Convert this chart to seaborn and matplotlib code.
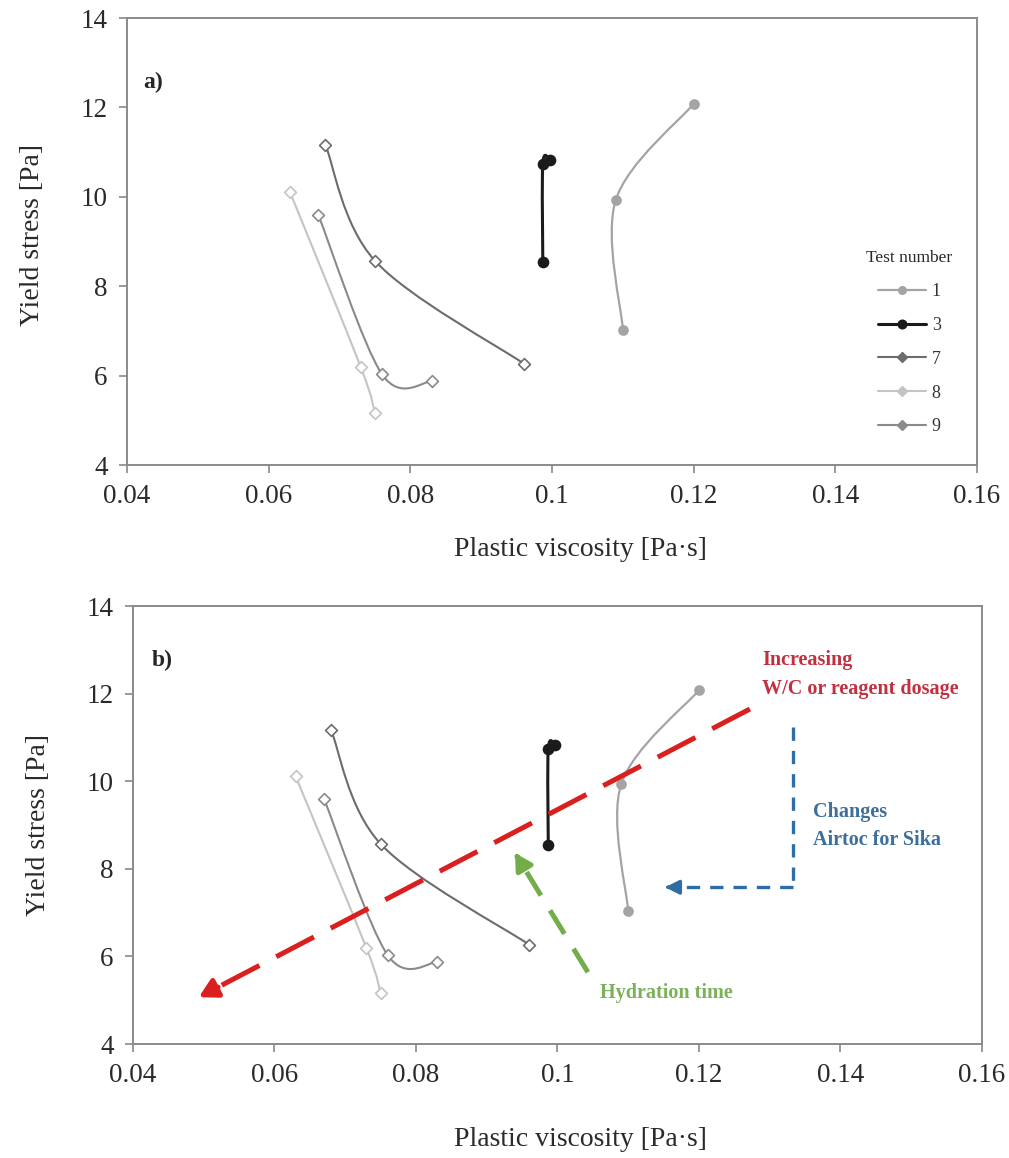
import numpy as np
import pandas as pd
import matplotlib.pyplot as plt
import seaborn as sns
from matplotlib.path import Path
from matplotlib.patches import PathPatch
from matplotlib.lines import Line2D

# data (plastic viscosity [Pa s], yield stress [Pa])
tests = ['1', '3', '7', '8', '9']
visc_1 = [0.120, 0.109, 0.110]
yield_1 = [12.08, 9.93, 7.03]
visc_3 = [0.0987, 0.0987, 0.0997]
yield_3 = [8.54, 10.74, 10.82]
visc_7 = [0.068, 0.075, 0.096]
yield_7 = [11.17, 8.57, 6.27]
visc_8 = [0.063, 0.073, 0.075]
yield_8 = [10.11, 6.19, 5.16]
visc_9 = [0.067, 0.076, 0.083]
yield_9 = [9.60, 6.03, 5.87]

x_ticks = [0.04, 0.06, 0.08, 0.1, 0.12, 0.14, 0.16]
x_ticklabels = ['0.04', '0.06', '0.08', '0.1', '0.12', '0.14', '0.16']
y_ticks = [4, 6, 8, 10, 12, 14]

# annotation arrows in panel b (tail -> tip)
red_tail, red_tip = (0.1272, 11.65), (0.0493, 5.07)
green_tail, green_tip = (0.1043, 5.64), (0.0940, 8.36)
blue_top, blue_corner, blue_tip = (0.1333, 11.24), (0.1333, 7.58), (0.1152, 7.58)

df = pd.concat([
    pd.DataFrame({'test': '1', 'visc': visc_1, 'ys': yield_1}),
    pd.DataFrame({'test': '3', 'visc': visc_3, 'ys': yield_3}),
    pd.DataFrame({'test': '7', 'visc': visc_7, 'ys': yield_7}),
    pd.DataFrame({'test': '8', 'visc': visc_8, 'ys': yield_8}),
    pd.DataFrame({'test': '9', 'visc': visc_9, 'ys': yield_9}),
])

style = {
    '1': dict(color='#a4a4a4', marker='o', ms=6.5, mfc='#a4a4a4', lw=1.6),
    '3': dict(color='#1b1b1b', marker='o', ms=7.2, mfc='#1b1b1b', lw=2.2),
    '7': dict(color='#6c6c6c', marker='D', ms=6, mfc='white', lw=1.5),
    '8': dict(color='#c4c4c4', marker='D', ms=6, mfc='white', lw=1.5),
    '9': dict(color='#8a8a8a', marker='D', ms=6, mfc='white', lw=1.5),
}

sns.set_theme(style='white')
plt.rcParams['font.family'] = ['Liberation Serif', 'DejaVu Serif']


def smooth_path(xs, ys):
    # excel-like smoothed line as cubic bezier segments
    pts = np.column_stack([xs, ys])
    n = len(pts)
    verts = [pts[0]]
    codes = [Path.MOVETO]
    for i in range(n - 1):
        p0 = pts[i - 1] if i > 0 else pts[i]
        p1 = pts[i]
        p2 = pts[i + 1]
        p3 = pts[i + 2] if i + 2 < n else pts[i + 1]
        c1 = p1 + (p2 - p0) / 6
        c2 = p2 - (p3 - p1) / 6
        verts += [c1, c2, p2]
        codes += [Path.CURVE4] * 3
    return Path(verts, codes)


def dashed_arrow(ax, tail, tip, color, lw, dashes, head):
    tail = np.array(tail)
    tip = np.array(tip)
    back = tip + (tail - tip) * 0.035
    ax.plot([tail[0], back[0]], [tail[1], back[1]], color=color, lw=lw,
            linestyle=(0, dashes), solid_capstyle='butt', zorder=4)
    ax.annotate('', xy=tuple(tip), xytext=tuple(back),
                arrowprops=dict(arrowstyle=head, color=color, lw=lw,
                                shrinkA=0, shrinkB=0), zorder=4)


def draw_panel(ax):
    for t in tests:
        sub = df[df['test'] == t]
        st = style[t]
        ax.add_patch(PathPatch(smooth_path(sub['visc'].values, sub['ys'].values),
                               fill=False, edgecolor=st['color'], lw=st['lw'], zorder=2))
        sns.scatterplot(data=sub, x='visc', y='ys', ax=ax, marker=st['marker'],
                        s=st['ms'] ** 2, color=st['mfc'], edgecolor=st['color'],
                        linewidth=1.2, zorder=3, legend=False)
    ax.set_xlim(0.04, 0.16)
    ax.set_ylim(4, 14)
    ax.set_xticks(x_ticks)
    ax.set_xticklabels(x_ticklabels)
    ax.set_yticks(y_ticks)
    ax.tick_params(axis='both', labelsize=19.5, labelcolor='#2a2a2a', length=6,
                   width=1.2, direction='out', bottom=True, left=True,
                   color='#888888', pad=8)
    for sp in ax.spines.values():
        sp.set_color('#8a8a8a')
        sp.set_linewidth(1.4)
    ax.set_ylabel('Yield stress [Pa]', fontsize=20, color='#2a2a2a')
    ax.set_xlabel('Plastic viscosity [Pa·s]', fontsize=20, color='#2a2a2a')


fig = plt.figure(figsize=(10.09, 11.58), dpi=100)
ax1 = fig.add_axes([0.1259, 0.5984, 0.8424, 0.3860])
ax2 = fig.add_axes([0.1318, 0.0984, 0.8414, 0.3782])

draw_panel(ax1)
ax1.xaxis.set_label_coords(0.533, -0.16)
ax1.yaxis.set_label_coords(-0.097, 0.515)
ax1.text(0.019, 0.857, 'a)', transform=ax1.transAxes, fontsize=17,
         fontweight='bold', va='center', ha='left')

handles = [Line2D([], [], color=style[t]['color'], lw=style[t]['lw'],
                  marker=style[t]['marker'], ms=style[t]['ms'] - 1,
                  mfc=style[t]['color'], mec=style[t]['color']) for t in tests]
leg = ax1.legend(handles, tests, title='Test number', loc='lower right',
                 bbox_to_anchor=(0.99, 0.03), frameon=False, fontsize=13,
                 title_fontsize=12.5, labelspacing=0.93, handlelength=2.7,
                 handletextpad=0.3)
for txt in leg.get_texts():
    txt.set_color('#333333')

draw_panel(ax2)
ax2.xaxis.set_label_coords(0.5265, -0.19)
ax2.yaxis.set_label_coords(-0.097, 0.5)
ax2.text(0.022, 0.877, 'b)', transform=ax2.transAxes, fontsize=17,
         fontweight='bold', va='center', ha='left')

# red arrow: increasing W/C or reagent dosage
dashed_arrow(ax2, red_tail, red_tip, '#db1f1f', 3.6, (8.5, 3.8),
             '-|>,head_length=0.9,head_width=0.5')
ax2.text(0.1289, 12.77, 'Increasing', color='#c23040', fontsize=14.5,
         fontweight='bold', va='center', ha='left')
ax2.text(0.1289, 12.1, 'W/C or reagent dosage', color='#c23040', fontsize=14.5,
         fontweight='bold', va='center', ha='left')

# green arrow: hydration time
dashed_arrow(ax2, green_tail, green_tip, '#72ad4a', 3.6, (5.5, 3.5),
             '-|>,head_length=0.8,head_width=0.45')
ax2.text(0.106, 5.16, 'Hydration time', color='#7ab15a', fontsize=14.5,
         fontweight='bold', va='center', ha='left')

# blue elbow arrow: changes airtoc for sika
ax2.plot([blue_top[0], blue_corner[0]], [blue_top[1], blue_corner[1]],
         color='#2f6ea5', lw=2.4, linestyle=(0, (4, 3)), zorder=4)
dashed_arrow(ax2, blue_corner, blue_tip, '#2f6ea5', 2.4, (4, 3),
             '-|>,head_length=0.7,head_width=0.35')
ax2.text(0.1361, 9.3, 'Changes', color='#3c6f9b', fontsize=14.5,
         fontweight='bold', va='center', ha='left')
ax2.text(0.1361, 8.66, 'Airtoc for Sika', color='#3c6f9b', fontsize=14.5,
         fontweight='bold', va='center', ha='left')

fig.savefig('out.png', dpi=100)
